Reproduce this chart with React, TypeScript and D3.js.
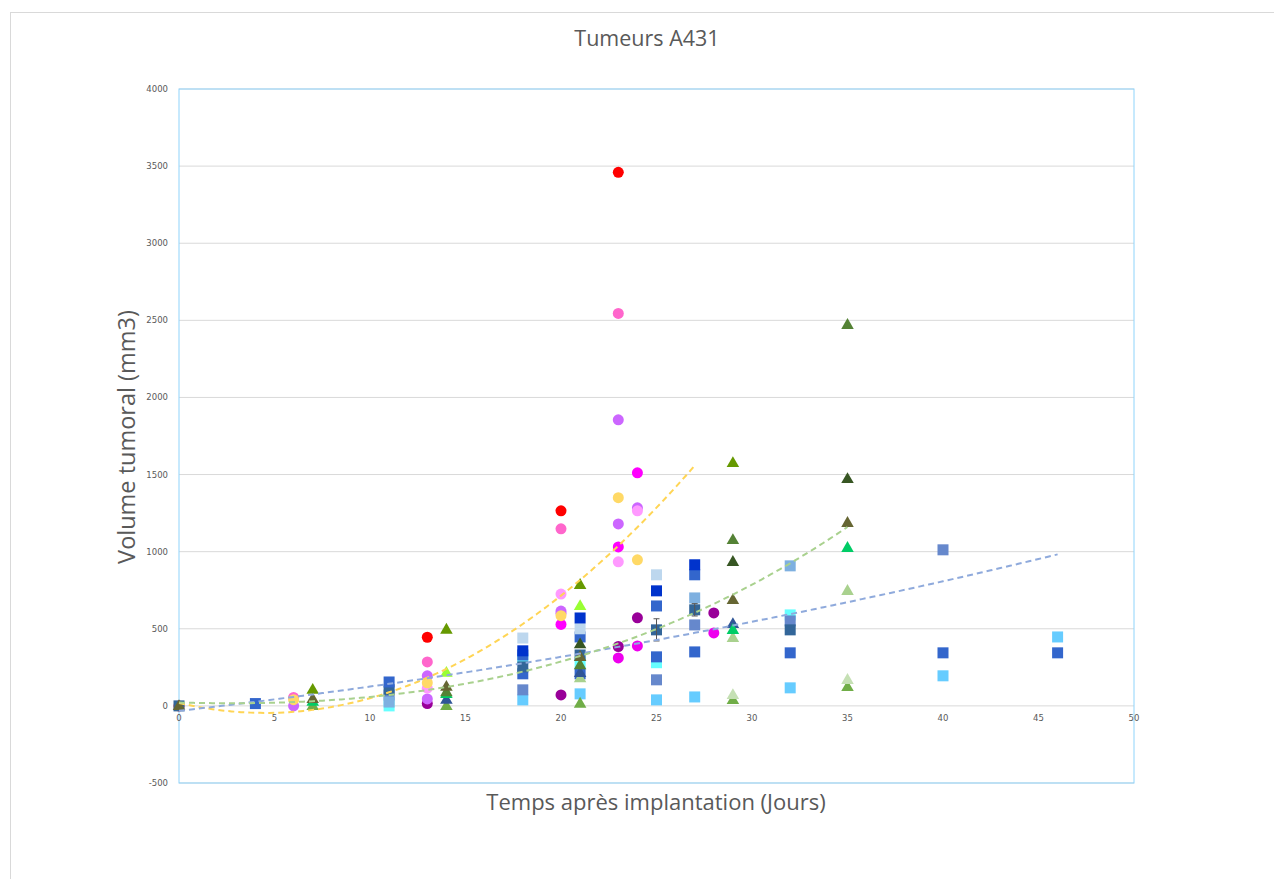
import React from "react";
import * as d3 from "d3";

// ---- axis ticks ----
const xTicks = [0, 5, 10, 15, 20, 25, 30, 35, 40, 45, 50];
const yTicks = [-500, 0, 500, 1000, 1500, 2000, 2500, 3000, 3500, 4000];

// ---- circle series (day, volume) ----
const circleRed = [[0, 0], [13, 445], [20, 1265], [23, 3460]];
const circlePink = [[6, 55], [13, 285], [20, 1148], [23, 2545]];
const circlePurpleA = [[6, 0], [13, 195], [20, 615], [23, 1855]];
const circlePurpleB = [[13, 45], [20, 600], [23, 1180], [24, 1284]];
const circleYellow = [[6, 40], [13, 150], [20, 585], [23, 1350], [24, 947]];
const circleLightPink = [[13, 115], [20, 725], [23, 934], [24, 1265]];
const circleMagentaA = [[20, 528], [23, 1031], [24, 1511]];
const circleMagentaB = [[23, 311], [24, 389], [28, 473]];
const circleDarkPurple = [[13, 15], [20, 71], [23, 385], [24, 571], [28, 603]];

// ---- square series ----
const squareDark = [[18, 357], [21, 570], [25, 746], [27, 915]];
const squareBlueA = [[4, 15], [11, 155], [18, 330], [21, 447], [25, 648], [27, 850]];
const squareBlueB = [[18, 208], [21, 208], [25, 318], [27, 350], [32, 344], [40, 344], [46, 344]];
const squarePale = [[18, 440], [21, 500], [25, 850]];
const squareSteel = [[0, 0], [11, 105], [18, 253], [21, 330], [25, 493], [27, 623], [32, 493]];
const squareCyan = [[11, 0], [18, 305], [21, 280], [25, 280], [32, 590]];
const squareSlate = [[11, 70], [18, 104], [25, 169], [27, 525], [32, 551], [40, 1012]];
const squareSky = [[11, 25], [27, 700], [32, 908]];
const squareLight = [[18, 39], [21, 78], [25, 39], [27, 58], [32, 117], [40, 195], [46, 447]];

// error bars (day, value, +/-)
const errorBars = [[25, 493, 72], [27, 623, 40]];

// ---- triangle series ----
const triOlive = [[7, 105], [14, 495], [21, 785], [29, 1575]];
const triGreen = [[14, 90], [21, 265], [29, 1076], [35, 2471]];
const triDarkGreen = [[21, 400], [29, 934], [35, 1472]];
const triKhaki = [[0, 0], [7, 45], [14, 125], [21, 318], [29, 687], [35, 1187]];
const triLime = [[14, 215], [21, 648]];
const triEmerald = [[7, 28], [14, 78], [29, 493], [35, 1025]];
const triNavy = [[14, 40], [21, 214], [29, 531]];
const triSage = [[21, 180], [29, 441], [35, 746]];
const triMint = [[29, 71], [35, 169]];
const triGrass = [[7, 0], [14, 0], [21, 15], [29, 39], [35, 123]];

// ---- trendline coefficients (c0, c1, c2, c3) and x-range ----
const trendCircles = [19, -28.6, 3.17, 0];
const trendSquares = [-32, 14, 0.175, 0];
const trendTriangles = [22, -3.555, 0.5895, 0.0126];
const trendRanges = [[0, 27], [0, 46], [0, 35]];

const circleSeries = [
  { pts: circleDarkPurple, color: "#990099" },
  { pts: circlePurpleA, color: "#cc66ff" },
  { pts: circlePurpleB, color: "#cc66ff" },
  { pts: circleLightPink, color: "#ff99ff" },
  { pts: circlePink, color: "#ff66cc" },
  { pts: circleMagentaA, color: "#ff00ff" },
  { pts: circleMagentaB, color: "#ee00ee" },
  { pts: circleYellow, color: "#ffd966" },
  { pts: circleRed, color: "#ff0000" },
];
const squareSeries = [
  { pts: squareLight, color: "#66ccff" },
  { pts: squareCyan, color: "#66ffff" },
  { pts: squareSlate, color: "#6688cc" },
  { pts: squareSky, color: "#7eb0e0" },
  { pts: squareBlueB, color: "#3366cc" },
  { pts: squareSteel, color: "#336699" },
  { pts: squareBlueA, color: "#3366cc" },
  { pts: squarePale, color: "#bdd7ee" },
  { pts: squareDark, color: "#0033cc" },
];
const triSeries = [
  { pts: triGrass, color: "#70ad47" },
  { pts: triMint, color: "#c5e0b4" },
  { pts: triSage, color: "#a9d18e" },
  { pts: triNavy, color: "#2f5597" },
  { pts: triEmerald, color: "#00cc66" },
  { pts: triGreen, color: "#548235" },
  { pts: triKhaki, color: "#666633" },
  { pts: triDarkGreen, color: "#375623" },
  { pts: triLime, color: "#99ff33" },
  { pts: triOlive, color: "#669900" },
];
const trends = [
  { coef: trendCircles, range: trendRanges[0], color: "#ffd555" },
  { coef: trendSquares, range: trendRanges[1], color: "#8faadc" },
  { coef: trendTriangles, range: trendRanges[2], color: "#a9d18e" },
];

const W = 1274;
const H = 879;
const L = 179, R = 1134, T = 89, B = 783;

export default function App() {
  const x = d3.scaleLinear().domain([0, 50]).range([L, R]);
  const y = d3.scaleLinear().domain([-500, 4000]).range([B, T]);
  const grey = "#595959";
  const fontTick = "'DejaVu Sans', Verdana, sans-serif";
  const fontTitle = "'Open Sans', 'Noto Sans', sans-serif";

  const poly = (c: number[], t: number) => c[0] + c[1] * t + c[2] * t * t + c[3] * t * t * t;

  const trendPath = (tr: any) => {
    const ts = d3.range(tr.range[0], tr.range[1] + 0.001, 0.25);
    return d3
      .line<number>()
      .x((t) => x(t))
      .y((t) => y(poly(tr.coef, t)))(ts);
  };
  const tri = d3.symbol().type(d3.symbolTriangle).size(68)();

  return (
    <svg
      width={W}
      height={H}
      style={{ position: "absolute", left: 0, top: 0, display: "block", background: "#fff" }}
    >
      <rect x={0} y={0} width={W} height={H} fill="#fff" />
      <rect x={10.5} y={12.5} width={W + 20} height={H + 20} fill="none" stroke="#d9d9d9" />

      <text x={647} y={46} textAnchor="middle" fontFamily={fontTitle} fontSize={21.5} fill={grey}>
        Tumeurs A431
      </text>

      {/* gridlines */}
      {yTicks.map((v) => (
        <line key={"g" + v} x1={L} x2={R} y1={y(v)} y2={y(v)} stroke="#d9d9d9" strokeWidth={1} />
      ))}
      {/* plot border */}
      <rect x={L} y={T} width={R - L} height={B - T} fill="none" stroke="#8fd4fb" strokeWidth={1} />

      {/* y tick labels */}
      {yTicks.map((v) => (
        <text
          key={"yt" + v}
          x={168}
          y={y(v)}
          dy="0.35em"
          textAnchor="end"
          fontFamily={fontTick}
          fontSize={8.5}
          fill={grey}
        >
          {v}
        </text>
      ))}
      {/* x tick labels */}
      {xTicks.map((v) => (
        <text
          key={"xt" + v}
          x={x(v)}
          y={y(0) + 15}
          textAnchor="middle"
          fontFamily={fontTick}
          fontSize={8.5}
          fill={grey}
        >
          {v}
        </text>
      ))}

      {/* circles */}
      {circleSeries.map((s, i) =>
        s.pts.map((p, j) => <circle key={`c${i}-${j}`} cx={x(p[0])} cy={y(p[1])} r={5.5} fill={s.color} />)
      )}
      {/* squares */}
      {squareSeries.map((s, i) =>
        s.pts.map((p, j) => (
          <rect key={`s${i}-${j}`} x={x(p[0]) - 5.5} y={y(p[1]) - 5.5} width={11} height={11} fill={s.color} />
        ))
      )}
      {/* error bars */}
      {errorBars.map((e, i) => (
        <g key={"e" + i} stroke="#555" strokeWidth={1}>
          <line x1={x(e[0])} x2={x(e[0])} y1={y(e[1] + e[2])} y2={y(e[1] - e[2])} />
          <line x1={x(e[0]) - 3} x2={x(e[0]) + 3} y1={y(e[1] + e[2])} y2={y(e[1] + e[2])} />
          <line x1={x(e[0]) - 3} x2={x(e[0]) + 3} y1={y(e[1] - e[2])} y2={y(e[1] - e[2])} />
        </g>
      ))}
      {/* triangles */}
      {triSeries.map((s, i) =>
        s.pts.map((p, j) => (
          <path
            key={`t${i}-${j}`}
            d={tri as string}
            transform={`translate(${x(p[0])},${y(p[1]) + 0.5})`}
            fill={s.color}
          />
        ))
      )}

      {/* trendlines */}
      {trends.map((tr, i) => (
        <path
          key={"tr" + i}
          d={trendPath(tr) as string}
          fill="none"
          stroke={tr.color}
          strokeWidth={2}
          strokeDasharray="6,4"
        />
      ))}

      {/* axis titles */}
      <text
        transform={`translate(135,437) rotate(-90)`}
        textAnchor="middle"
        fontFamily={fontTitle}
        fontSize={23.5}
        fill={grey}
      >
        Volume tumoral (mm3)
      </text>
      <text x={656} y={810} textAnchor="middle" fontFamily={fontTitle} fontSize={22} fill={grey}>
        Temps après implantation (Jours)
      </text>
    </svg>
  );
}
